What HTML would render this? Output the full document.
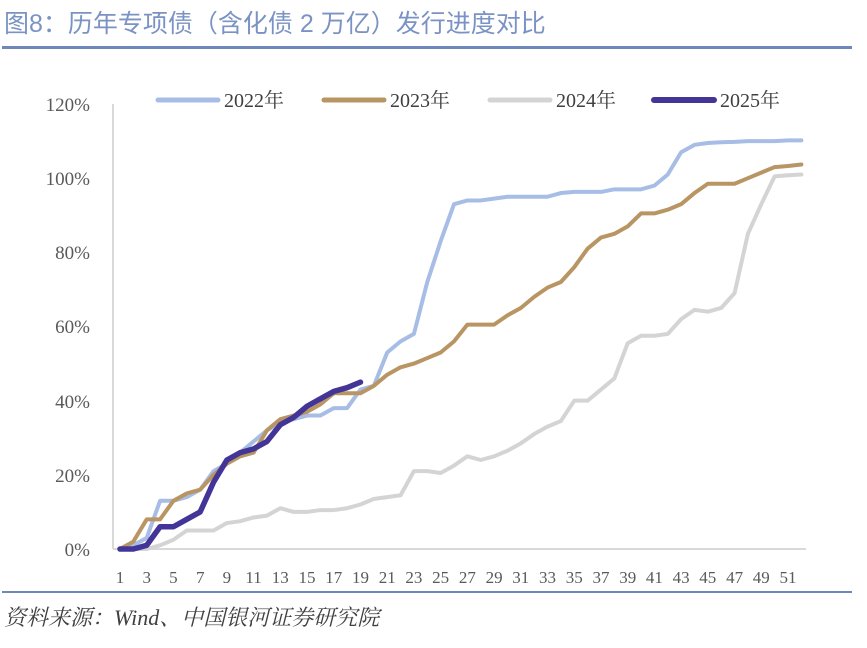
<!DOCTYPE html>
<html><head><meta charset="utf-8"><style>
body{margin:0;background:#fff;width:867px;height:648px;overflow:hidden}
svg{display:block}
</style></head><body>
<svg width="867" height="648" xmlns="http://www.w3.org/2000/svg">
<text x="4" y="32" font-family="Liberation Sans, Noto Sans CJK SC, sans-serif" font-size="25" fill="#7b93c4">图8：历年专项债（含化债 2 万亿）发行进度对比</text>
<rect x="2" y="46" width="850" height="3" fill="#6f87ba"/>
<line x1="113" y1="104" x2="113" y2="549" stroke="#d9d9d9" stroke-width="2"/>
<line x1="113" y1="549" x2="806" y2="549" stroke="#d9d9d9" stroke-width="2"/>
<g font-family="Liberation Serif, serif" font-size="19" fill="#595959" text-anchor="end">
<text x="90" y="556">0%</text><text x="90" y="482">20%</text><text x="90" y="408">40%</text><text x="90" y="333">60%</text><text x="90" y="259">80%</text><text x="90" y="185">100%</text><text x="90" y="111">120%</text>
</g>
<g font-family="Liberation Serif, serif" font-size="17" fill="#595959" text-anchor="middle">
<text x="120" y="583">1</text><text x="146.7" y="583">3</text><text x="173.4" y="583">5</text><text x="200.2" y="583">7</text><text x="226.9" y="583">9</text><text x="253.6" y="583">11</text><text x="280.3" y="583">13</text><text x="307" y="583">15</text><text x="333.8" y="583">17</text><text x="360.5" y="583">19</text><text x="387.2" y="583">21</text><text x="413.9" y="583">23</text><text x="440.6" y="583">25</text><text x="467.4" y="583">27</text><text x="494.1" y="583">29</text><text x="520.8" y="583">31</text><text x="547.5" y="583">33</text><text x="574.2" y="583">35</text><text x="601" y="583">37</text><text x="627.7" y="583">39</text><text x="654.4" y="583">41</text><text x="681.1" y="583">43</text><text x="707.8" y="583">45</text><text x="734.6" y="583">47</text><text x="761.3" y="583">49</text><text x="788" y="583">51</text>
</g>
<g fill="none" stroke-linejoin="round" stroke-linecap="round" transform="translate(106.64,549) scale(13.36,-3.708)">
<polyline vector-effect="non-scaling-stroke" stroke="#d4d4d4" stroke-width="4" points="1,0 2,0 3,0 4,1 5,2.5 6,5 7,5 8,5 9,7 10,7.5 11,8.5 12,9 13,11 14,10 15,10 16,10.5 17,10.5 18,11 19,12 20,13.5 21,14 22,14.5 23,21 24,21 25,20.5 26,22.5 27,25 28,24 29,25 30,26.5 31,28.5 32,31 33,33 34,34.5 35,40 36,40 37,43 38,46 39,55.5 40,57.5 41,57.5 42,58 43,62 44,64.5 45,64 46,65 47,69 48,85 49,93 50,100.5 51,100.8 52,101"/>
<polyline vector-effect="non-scaling-stroke" stroke="#a7bde6" stroke-width="4" points="1,0 2,1 3,3 4,13 5,13 6,14 7,16 8,21 9,23 10,26 11,29 12,32 13,34 14,35 15,36 16,36 17,38 18,38 19,43 20,44 21,53 22,56 23,58 24,72 25,83 26,93 27,94 28,94 29,94.5 30,95 31,95 32,95 33,95 34,96 35,96.3 36,96.3 37,96.3 38,97 39,97 40,97 41,98 42,101 43,107 44,109 45,109.5 46,109.7 47,109.8 48,110 49,110 50,110 51,110.2 52,110.2"/>
<polyline vector-effect="non-scaling-stroke" stroke="#b89563" stroke-width="4" points="1,0 2,2 3,8 4,8 5,13 6,15 7,16 8,20 9,23 10,25 11,26 12,32 13,35 14,36 15,37 16,39 17,42 18,42 19,42 20,44 21,47 22,49 23,50 24,51.5 25,53 26,56 27,60.5 28,60.5 29,60.5 30,63 31,65 32,68 33,70.5 34,72 35,76 36,81 37,84 38,85 39,87 40,90.5 41,90.5 42,91.5 43,93 44,96 45,98.5 46,98.5 47,98.5 48,100 49,101.5 50,103 51,103.3 52,103.7"/>
<polyline vector-effect="non-scaling-stroke" stroke="#433597" stroke-width="5.5" points="1,0 2,0 3,1 4,6 5,6 6,8 7,10 8,18 9,24 10,26 11,27 12,29 13,33.5 14,35.5 15,38.5 16,40.5 17,42.5 18,43.5 19,45"/>
</g>
<g font-family="Liberation Serif, Noto Serif CJK SC, serif" font-size="20" fill="#404040">
<line x1="158" y1="100" x2="218" y2="100" stroke="#a7bde6" stroke-width="5" stroke-linecap="round"/><text x="224" y="107">2022年</text>
<line x1="324" y1="100" x2="384" y2="100" stroke="#b89563" stroke-width="5" stroke-linecap="round"/><text x="390" y="107">2023年</text>
<line x1="490" y1="100" x2="550" y2="100" stroke="#d4d4d4" stroke-width="5" stroke-linecap="round"/><text x="556" y="107">2024年</text>
<line x1="654" y1="100" x2="714" y2="100" stroke="#433597" stroke-width="6" stroke-linecap="round"/><text x="720" y="107">2025年</text>
</g>
<rect x="2" y="591" width="850" height="2" fill="#6f87ba"/>
<text x="4" y="625" font-family="Liberation Serif, Noto Serif CJK SC, serif" font-style="italic" font-size="22" fill="#404040">资料来源：Wind、中国银河证券研究院</text>
</svg>
</body></html>
